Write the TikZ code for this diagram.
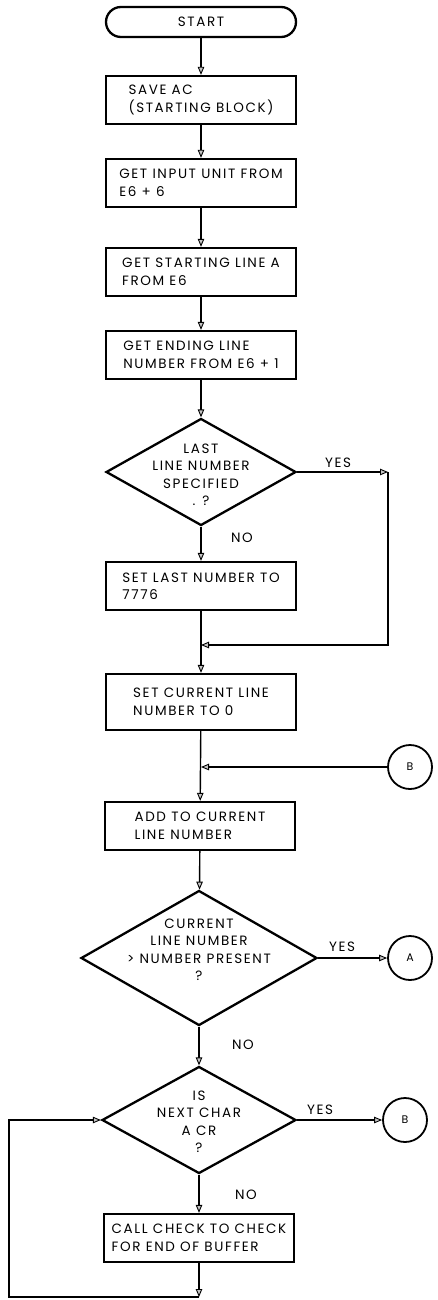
\documentclass[tikz,border=0pt]{standalone}
\usepackage{fontspec}
\setmainfont{Poppins}[LetterSpace=12]
\usetikzlibrary{shapes.geometric,arrows.meta}
\begin{document}
\begin{tikzpicture}[x=1pt,y=-1pt,
  font=\fontsize{13.5}{17.5}\selectfont,
  box/.style={draw,line width=2.3pt,minimum width=190pt,minimum height=48pt,align=left,inner sep=2pt},
  term/.style={draw,line width=2.3pt,minimum width=190pt,minimum height=30pt,rounded corners=15pt},
  dec/.style={draw,diamond,line width=2.3pt,inner sep=0pt},
  dtext/.style={align=center,inner sep=0pt},
  conn/.style={draw,circle,line width=1.8pt,minimum size=44pt,inner sep=0pt,font=\fontsize{11}{13}\selectfont},
  arr/.style={line width=1.4pt,-{Triangle[length=8pt,width=6.5pt,fill=gray!45,line width=0.9pt]}},
  lbl/.style={inner sep=0pt}
]
\useasboundingbox (0,0) rectangle (437,1300);
\node[term] (start) at (201,22) {START};
\node[box] (save) at (201,100) {SAVE AC\\(STARTING BLOCK)};
\node[box] (input) at (201,183) {GET INPUT UNIT FROM\\E6 + 6};
\node[box] (sline) at (201,272) {GET STARTING LINE A\\FROM E6};
\node[box] (eline) at (201,355) {GET ENDING LINE\\NUMBER FROM E6 + 1};
\node[dec,minimum width=190pt,minimum height=107pt,
  label={[dtext,yshift=-3pt]center:LAST\\LINE NUMBER\\SPECIFIED\\. ?}] (d1) at (201,472) {};
\node[box] (setlast) at (201,586) {SET LAST NUMBER TO\\7776};
\coordinate (m1) at (201,645);
\coordinate (r1) at (388,472);
\coordinate (r1b) at (388,645);
\node[box,minimum height=56pt] (setcur) at (201,702) {SET CURRENT LINE\\NUMBER TO 0};
\coordinate (m2) at (201,767);
\node[conn] (b1) at (410,767) {B};
\node[box] (add) at (200,826) {ADD TO CURRENT\\LINE NUMBER};
\node[dec,minimum width=236pt,minimum height=135pt,
  label={[dtext,yshift=8pt]center:CURRENT\\LINE NUMBER\\> NUMBER PRESENT\\?}] (d2) at (199,958) {};
\node[conn] (a) at (410,958) {A};
\node[dec,minimum width=194pt,minimum height=107pt,
  label={[dtext,yshift=-2pt]center:IS\\NEXT CHAR\\A CR\\?}] (d3) at (199,1120) {};
\node[conn] (b2) at (405,1120) {B};
\node[box] (check) at (199,1238) {CALL CHECK TO CHECK\\FOR END OF BUFFER};
\coordinate (m3) at (199,1297);
\coordinate (lc) at (9,1297);

\draw[arr] (start) -- (save);
\draw[arr] (save) -- (input);
\draw[arr] (input) -- (sline);
\draw[arr] (sline) -- (eline);
\draw[arr] (eline) -- (d1);
\draw[arr] (d1) -- (setlast);
\draw[arr] (d1.east) -- (r1);
\draw[arr] (r1) -- (r1b) -- (m1);
\draw[arr] (setlast) -- (setcur);
\draw[arr] (b1) -- (m2);
\draw[arr] (setcur) -- (add);
\draw[arr] (add) -- (d2);
\draw[arr] (d2) -- (a);
\draw[arr] (d2) -- (d3);
\draw[arr] (d3) -- (b2);
\draw[arr] (d3) -- (check);
\draw[arr] (check) -- (m3);
\draw[arr] (m3) -- (lc) |- (d3.west);

\node[lbl] at (338,463) {YES};
\node[lbl] at (242,538) {NO};
\node[lbl] at (342,947) {YES};
\node[lbl] at (243,1045) {NO};
\node[lbl] at (320,1110) {YES};
\node[lbl] at (246,1195) {NO};
\end{tikzpicture}
\end{document}
